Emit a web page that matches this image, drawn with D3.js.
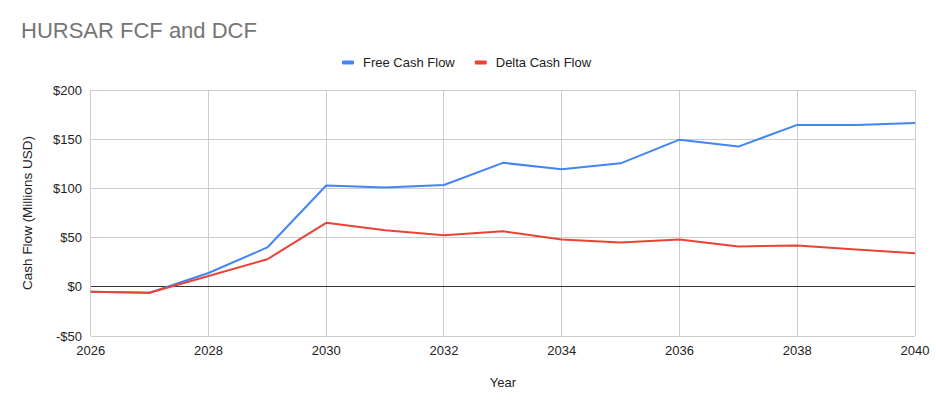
<!DOCTYPE html>
<html><head><meta charset="utf-8">
<script src="https://cdn.jsdelivr.net/npm/d3@7"></script>
<style>body{margin:0;background:#fff;font-family:Arial,"Liberation Sans",sans-serif;}</style>
</head><body><svg id="c" width="936" height="410"></svg>
<script>
const years = [2026,2027,2028,2029,2030,2031,2032,2033,2034,2035,2036,2037,2038,2039,2040];
const freeCashFlow = [-5,-6,14,40,103,101,103.5,126,119.5,125.5,149.5,142.5,164.5,164.5,166.5];
const deltaCashFlow = [-5,-6,11,28,65,57.5,52.5,56.5,48,45,48,41,42,38,34];
const yTicks = [-50,0,50,100,150,200];
const xTicks = [2026,2028,2030,2032,2034,2036,2038,2040];
const seriesNames = ["Free Cash Flow","Delta Cash Flow"];
const colors = ["#4285F4","#EA4335"];

const svg = d3.select("#c");
const m = {l:90.7, r:915, t:90, b:336};
const x = d3.scaleLinear().domain([2026,2040]).range([m.l,m.r]);
const y = d3.scaleLinear().domain([-50,200]).range([m.b,m.t]);
const font = "Arial, 'Liberation Sans', sans-serif";
const fs = 13;

svg.append("rect").attr("width",936).attr("height",410).attr("fill","#fff");

// grid
const g = svg.append("g");
g.selectAll("line.h").data(yTicks).join("line")
  .attr("x1",m.l).attr("x2",m.r).attr("y1",d=>y(d)).attr("y2",d=>y(d))
  .attr("stroke","#ccc").attr("stroke-width",1).attr("shape-rendering","crispEdges");
g.selectAll("line.v").data(xTicks).join("line")
  .attr("x1",d=>x(d)).attr("x2",d=>x(d)).attr("y1",m.t).attr("y2",m.b)
  .attr("stroke","#ccc").attr("stroke-width",1).attr("shape-rendering","crispEdges");
g.append("line").attr("x1",m.l).attr("x2",m.r).attr("y1",y(0)).attr("y2",y(0))
  .attr("stroke","#333").attr("shape-rendering","crispEdges");

// y axis labels
svg.append("g").selectAll("text").data(yTicks).join("text")
  .attr("x",82).attr("y",d=>y(d)+4.5).attr("text-anchor","end")
  .attr("font-family",font).attr("font-size",fs).attr("fill","#222")
  .text(d=>(d<0?"-$":"$")+Math.abs(d));
// x axis labels
svg.append("g").selectAll("text").data(xTicks).join("text")
  .attr("x",d=>x(d)).attr("y",354.5).attr("text-anchor","middle")
  .attr("font-family",font).attr("font-size",fs).attr("fill","#222")
  .text(d=>d);

// axis titles
svg.append("text").attr("x",(m.l+m.r)/2).attr("y",387).attr("text-anchor","middle")
  .attr("font-family",font).attr("font-size",fs).attr("fill","#222").text("Year");
svg.append("text").attr("transform",`translate(31.5,${(m.t+m.b)/2}) rotate(-90)`)
  .attr("text-anchor","middle").attr("font-family",font).attr("font-size",13.5).attr("fill","#222")
  .text("Cash Flow (Millions USD)");

// title
svg.append("text").attr("x",21).attr("y",38).attr("font-family",font).attr("font-size",22)
  .attr("fill","#757575").text("HURSAR FCF and DCF");

// lines
const line = d3.line().x((d,i)=>x(years[i])).y(d=>y(d));
[freeCashFlow, deltaCashFlow].forEach((s,i)=>{
  svg.append("path").attr("d",line(s)).attr("fill","none")
    .attr("stroke",colors[i]).attr("stroke-width",2).attr("stroke-linejoin","round");
});

// legend
let lx = 342;
seriesNames.forEach((n,i)=>{
  svg.append("rect").attr("x",lx).attr("y",60.5).attr("width",12).attr("height",4).attr("rx",1)
    .attr("fill",colors[i]);
  const t = svg.append("text").attr("x",lx+21).attr("y",66.8).attr("font-family",font).attr("font-size",fs)
    .attr("fill","#222").text(n);
  lx += 21 + t.node().getComputedTextLength() + 20;
});
</script></body></html>
